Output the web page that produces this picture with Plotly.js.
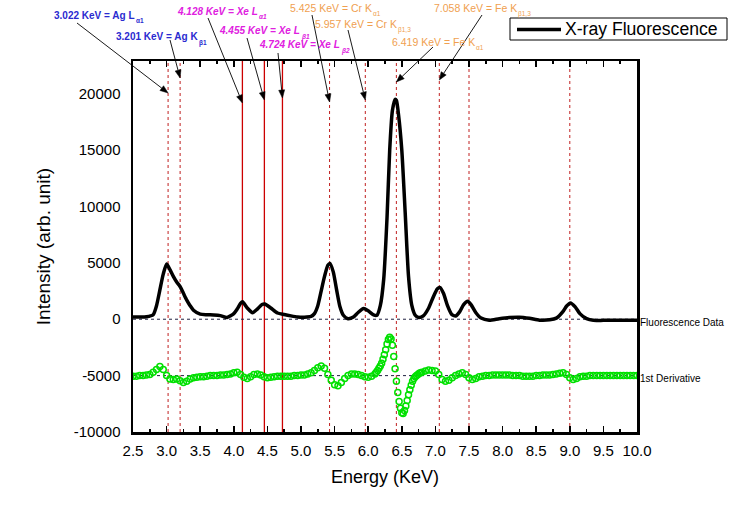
<!DOCTYPE html>
<html><head><meta charset="utf-8">
<script src="https://cdn.plot.ly/plotly-3.0.1.min.js"></script>
<style>html,body{margin:0;padding:0;background:#fff}#chart{width:740px;height:520px}</style>
</head><body><div id="chart"></div>
<script>
// Fluorescence spectrum (KeV, intensity)
const energy = [2.5,2.6,2.7,2.8,2.85,2.9,2.95,3.0,3.05,3.1,3.15,3.2,3.25,3.3,3.35,3.4,3.5,3.6,3.7,3.8,3.9,4.0,4.05,4.1,4.13,4.2,4.28,4.35,4.42,4.46,4.55,4.65,4.75,4.85,4.95,5.05,5.15,5.2,5.25,5.3,5.35,5.4,5.43,5.48,5.53,5.58,5.63,5.7,5.78,5.85,5.93,6.0,6.08,6.13,6.18,6.23,6.28,6.32,6.36,6.4,6.42,6.45,6.5,6.55,6.6,6.65,6.7,6.75,6.82,6.9,6.97,7.03,7.07,7.12,7.18,7.24,7.3,7.36,7.42,7.48,7.53,7.6,7.68,7.8,7.95,8.1,8.25,8.4,8.55,8.7,8.8,8.9,8.95,9.01,9.08,9.15,9.25,9.35,9.5,9.7,10.0];
const intensity = [200,200,220,400,1200,2600,4000,4900,4400,3800,3300,2900,2300,1700,1200,800,450,400,380,320,150,500,900,1400,1550,1000,580,900,1300,1350,1000,550,420,300,200,180,250,500,1200,2500,3800,4800,4950,4200,2600,1100,350,50,200,600,950,750,380,350,1200,3500,9000,15000,18500,19500,19400,18200,15000,9500,3800,1200,350,150,300,1000,2000,2700,2800,2300,1200,450,280,650,1300,1600,1300,600,100,-80,50,150,180,80,-80,-50,100,700,1150,1450,1100,500,50,-100,-100,-100,-100];

// First derivative (offset by -5000)
const derivEnergy = [2.50,2.55,2.60,2.65,2.70,2.75,2.80,2.85,2.90,2.95,3.00,3.05,3.10,3.15,3.20,3.25,3.30,3.35,3.40,3.45,3.50,3.55,3.60,3.65,3.70,3.75,3.80,3.85,3.90,3.95,4.00,4.05,4.10,4.15,4.20,4.25,4.30,4.35,4.40,4.45,4.50,4.55,4.60,4.65,4.70,4.75,4.80,4.85,4.90,4.95,5.00,5.05,5.10,5.15,5.20,5.25,5.30,5.35,5.40,5.45,5.50,5.55,5.60,5.65,5.70,5.75,5.80,5.85,5.90,5.95,6.00,6.05,6.10,6.12,6.14,6.16,6.18,6.20,6.22,6.24,6.26,6.28,6.30,6.32,6.34,6.36,6.38,6.40,6.42,6.44,6.46,6.48,6.50,6.52,6.54,6.56,6.58,6.60,6.62,6.64,6.66,6.68,6.70,6.72,6.74,6.76,6.78,6.80,6.85,6.90,6.95,7.00,7.05,7.10,7.15,7.20,7.25,7.30,7.35,7.40,7.45,7.50,7.55,7.60,7.65,7.70,7.75,7.80,7.85,7.90,7.95,8.00,8.05,8.10,8.15,8.20,8.25,8.30,8.35,8.40,8.45,8.50,8.55,8.60,8.65,8.70,8.75,8.80,8.85,8.90,8.95,9.00,9.05,9.10,9.15,9.20,9.25,9.30,9.35,9.40,9.45,9.50,9.55,9.60,9.65,9.70,9.75,9.80,9.85,9.90,9.95,10.00];
const derivative = [-5050,-5050,-5000,-5000,-4950,-4900,-4700,-4450,-4200,-4450,-5000,-5300,-5350,-5300,-5450,-5600,-5500,-5300,-5200,-5150,-5100,-5100,-5050,-5000,-5000,-5000,-4950,-4950,-4900,-4850,-4750,-4700,-4900,-5150,-5250,-5100,-4900,-4850,-4950,-5100,-5200,-5150,-5100,-5050,-5050,-5050,-5050,-5050,-5000,-5000,-4950,-4950,-4850,-4750,-4550,-4300,-4150,-4350,-4900,-5400,-5800,-5900,-5600,-5250,-5000,-4850,-4850,-4900,-5000,-5100,-5150,-5050,-4850,-4700,-4550,-4350,-4150,-3900,-3550,-3150,-2700,-2200,-1800,-1600,-1750,-2300,-3300,-4400,-5500,-6500,-7300,-7900,-8300,-8350,-8100,-7700,-7200,-6700,-6250,-5850,-5500,-5250,-5100,-5000,-4900,-4800,-4750,-4700,-4600,-4500,-4550,-4600,-4900,-5350,-5500,-5400,-5200,-5000,-4850,-4750,-4900,-5200,-5350,-5250,-5100,-5050,-5000,-5000,-4950,-4950,-4950,-4950,-4950,-4950,-5000,-5000,-5000,-5050,-5050,-5050,-5050,-5000,-5000,-4950,-4950,-4950,-4900,-4850,-4800,-4750,-4900,-5200,-5350,-5250,-5100,-5050,-5050,-5000,-5000,-5000,-5000,-5000,-5000,-5000,-5000,-5000,-5000,-5000,-5000,-5000,-5000,-5000];

// Emission line labels (main text + subscript)
const lineEnergies = [3.022,3.201,4.128,4.455,4.724,5.425,5.957,6.419,7.058];
const lineLabels = ["3.022 KeV = Ag L","3.201 KeV = Ag K","4.128 KeV = Xe L","4.455 KeV = Xe L","4.724 KeV = Xe L",
  "5.425 KeV = Cr K","5.957 KeV = Cr K","6.419 KeV = Fe K","7.058 KeV = Fe K"];
const lineSubs = ["α1","β1","α1","β1","β2","α1","β1,3","α1","β1,3"];
const lineGroup = ["Ag","Ag","Xe","Xe","Xe","Cr","Cr","Fe","Fe"];
const solidLines = [4.128,4.455,4.724];
const dottedLines = [3.022,3.201,5.425,5.957,6.419,7.058,7.5,9.0];
const refLevels = [0,-5000];
const xTicks = [2.5,3.0,3.5,4.0,4.5,5.0,5.5,6.0,6.5,7.0,7.5,8.0,8.5,9.0,9.5,10.0];
const yTicks = [-10000,-5000,0,5000,10000,15000,20000];
const seriesName = 'X-ray Fluorescence';

// layout helpers (pixel geometry of labels, arrows and legend)
const L=133,R=637,T=61,B=432;
const px2paperX = p => (p-L)/(R-L);
const px2paperY = p => (B-p)/(B-T);
const yMin=-10000,yMax=22900;
const textEnd = [[135,15],[198,37],[258,11],[300,31],[340,45],[372,8],[397,24],[475,42],[517,8]];
const headPy = [93,78,103,100,98,102,100,82,80];
const tailPx = [[77,23],[170,40],[208,18],[247,38],[278,53],[312,15],[348,30],[433,47],[482,15]];
const headPx = lineEnergies.map(e => L + (e-2.5)/7.5*(R-L));
const groupStyle = {
  Ag:{color:'#2a2ad0',size:10,bold:true,italic:false},
  Xe:{color:'#e020e0',size:10,bold:true,italic:true},
  Cr:{color:'#f0a050',size:10.5,bold:false,italic:false},
  Fe:{color:'#f0a050',size:10.5,bold:false,italic:false}
};
const FAM = 'Arial, Liberation Sans';

const annotations = [];
const shapes = [];
lineLabels.forEach((t,i)=>{
  const st = groupStyle[lineGroup[i]];
  const fnt = {color:st.color,size:st.size,family:FAM,weight:st.bold?'bold':'normal',style:st.italic?'italic':'normal'};
  annotations.push({xref:'paper',yref:'paper',x:px2paperX(textEnd[i][0]),y:px2paperY(textEnd[i][1]),
    text:t,showarrow:false,xanchor:'right',yanchor:'middle',borderpad:0,borderwidth:0,font:fnt});
  annotations.push({xref:'paper',yref:'paper',x:px2paperX(textEnd[i][0]+1),y:px2paperY(textEnd[i][1]+6),
    text:lineSubs[i],showarrow:false,xanchor:'left',yanchor:'middle',borderpad:0,borderwidth:0,
    font:Object.assign({},fnt,{size:6.5})});
  // arrow: line + filled head
  const hx=headPx[i], hy=headPy[i], tx=tailPx[i][0], ty=tailPx[i][1];
  const dx=hx-tx, dy=hy-ty, len=Math.hypot(dx,dy), ux=dx/len, uy=dy/len;
  const bx=hx-8*ux, by=hy-8*uy, nx=-uy, ny=ux;
  shapes.push({type:'line',xref:'paper',yref:'paper',x0:px2paperX(tx),y0:px2paperY(ty),x1:px2paperX(bx),y1:px2paperY(by),
    line:{color:'#000',width:0.9}});
  const p = (x,y)=>px2paperX(x)+','+px2paperY(y);
  shapes.push({type:'path',xref:'paper',yref:'paper',
    path:'M'+p(hx,hy)+' L'+p(bx+3*nx,by+3*ny)+' L'+p(bx-3*nx,by-3*ny)+' Z',
    fillcolor:'#000',line:{color:'#000',width:0.5}});
});
annotations.push({xref:'paper',yref:'y',x:1,xshift:3,y:0,yshift:-3,xanchor:'left',yanchor:'middle',showarrow:false,
  borderpad:0,borderwidth:0,text:'Fluorescence Data',font:{size:10,family:FAM,color:'#000'}});
annotations.push({xref:'paper',yref:'y',x:1,xshift:3,y:-5000,yshift:-3,xanchor:'left',yanchor:'middle',showarrow:false,
  borderpad:0,borderwidth:0,text:'1st Derivative',font:{size:10,family:FAM,color:'#000'}});

// legend drawn as a box
shapes.push({type:'rect',xref:'paper',yref:'paper',x0:px2paperX(510),x1:px2paperX(727),y0:px2paperY(18),y1:px2paperY(40),
  line:{color:'#000',width:1},fillcolor:'#fff'});
shapes.push({type:'line',xref:'paper',yref:'paper',x0:px2paperX(517),x1:px2paperX(561),y0:px2paperY(29.5),y1:px2paperY(29.5),
  line:{color:'#000',width:3.5}});
annotations.push({xref:'paper',yref:'paper',x:px2paperX(565),y:px2paperY(29.5),xanchor:'left',yanchor:'middle',showarrow:false,
  borderpad:0,borderwidth:0,text:seriesName,font:{size:17.6,family:FAM,color:'#000'}});

dottedLines.forEach(e=>shapes.push({type:'line',xref:'x',yref:'paper',x0:e,x1:e,y0:0,y1:1,layer:'below',
  line:{color:'#c02020',width:1,dash:'dot'}}));
solidLines.forEach(e=>shapes.push({type:'line',xref:'x',yref:'paper',x0:e,x1:e,y0:0,y1:1,layer:'below',
  line:{color:'#cc0000',width:1.3}}));
refLevels.forEach(v=>shapes.push({type:'line',xref:'paper',yref:'y',x0:0,x1:1,y0:v,y1:v,layer:'below',
  line:{color:'#202040',width:1,dash:'dot'}}));

const traces = [
  {x:derivEnergy,y:derivative,type:'scatter',mode:'markers',showlegend:false,name:'1st Derivative',
   marker:{symbol:'circle-open',size:6,color:'#00e000',line:{width:1.5,color:'#00e000'}}},
  {x:energy,y:intensity,type:'scatter',mode:'lines',name:seriesName,showlegend:false,
   line:{color:'#000',width:3.5,shape:'spline',smoothing:0.6}}
];

const layout = {
  width:740,height:520,
  margin:{l:L,r:740-R,t:T,b:520-B,pad:0},
  paper_bgcolor:'#fff',plot_bgcolor:'#fff',
  font:{family:FAM,color:'#000'},
  showlegend:false,
  xaxis:{range:[2.5,10.0],tickmode:'array',tickvals:xTicks,ticktext:xTicks.map(v=>v.toFixed(1)),
    ticks:'inside',ticklen:6,tickwidth:1.5,tickcolor:'#000',
    minor:{dtick:0.25,ticks:'inside',ticklen:3,tickwidth:1.5,tickcolor:'#000'},
    showline:true,linewidth:2.5,linecolor:'#000',mirror:'ticks',showgrid:false,zeroline:false,
    tickfont:{size:15},ticklabelstandoff:3,
    title:{text:'Energy (KeV)',font:{size:18},standoff:13}},
  yaxis:{range:[yMin,yMax],tickmode:'array',tickvals:yTicks,ticktext:yTicks.map(v=>String(v)),ticks:'',
    showline:true,linewidth:2.5,linecolor:'#000',mirror:true,showgrid:false,zeroline:false,
    tickfont:{size:15},ticklabelstandoff:7,
    title:{text:'Intensity (arb. unit)',font:{size:19},standoff:18}},
  annotations:annotations,shapes:shapes
};
Plotly.newPlot('chart',traces,layout,{displayModeBar:false,staticPlot:true});
</script></body></html>
